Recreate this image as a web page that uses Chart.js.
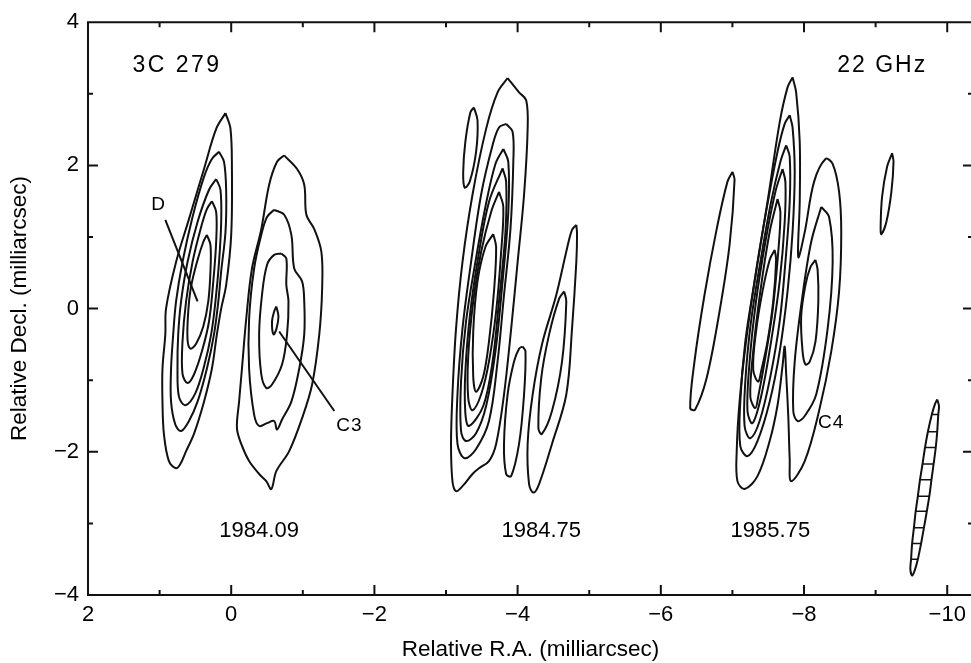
<!DOCTYPE html>
<html>
<head>
<meta charset="utf-8">
<script src="https://cdn.jsdelivr.net/npm/chart.js@4.4.1/dist/chart.umd.min.js"></script>
<style>
  html, body { margin: 0; padding: 0; background: #fff; overflow: hidden; }
  canvas { display: block; }
</style>
</head>
<body>
<canvas id="map" width="980" height="663"></canvas>
<script>
// axis ticks (milliarcsec)
const raTicks = [2, 1, 0, -1, -2, -3, -4, -5, -6, -7, -8, -9, -10];
const declTicks = [-4, -3, -2, -1, 0, 1, 2, 3, 4];

// contours, [RA, Decl] pairs
// epoch 1984.09 - core D
const ctrD1 = [[0.08,2.73],[0.01,2.51],[-0.01,1.95],[0.00,1.03],[0.07,0.33],[0.14,0.00],[0.20,-0.36],[0.27,-0.84],[0.38,-1.30],[0.52,-1.75],[0.63,-1.99],[0.71,-2.17],[0.77,-2.23],[0.87,-2.13],[0.94,-1.75],[0.96,-1.30],[0.96,-0.84],[0.92,-0.36],[0.91,0.00],[0.77,0.65],[0.59,1.25],[0.38,1.95],[0.21,2.51],[0.08,2.73]];
const ctrD2 = [[0.17,2.19],[0.10,2.05],[0.07,1.63],[0.08,1.07],[0.14,0.52],[0.18,0.10],[0.24,-0.36],[0.34,-0.84],[0.47,-1.30],[0.59,-1.57],[0.70,-1.71],[0.78,-1.62],[0.84,-1.30],[0.84,-0.84],[0.81,-0.36],[0.77,0.10],[0.68,0.65],[0.54,1.28],[0.38,1.84],[0.27,2.09],[0.17,2.19]];
const ctrD3 = [[0.21,1.81],[0.15,1.66],[0.14,1.21],[0.17,0.65],[0.22,0.10],[0.28,-0.36],[0.38,-0.81],[0.50,-1.18],[0.64,-1.35],[0.73,-1.23],[0.75,-0.81],[0.74,-0.36],[0.70,0.10],[0.61,0.65],[0.47,1.21],[0.31,1.66],[0.21,1.81]];
const ctrD4 = [[0.27,1.50],[0.21,1.35],[0.21,0.93],[0.25,0.38],[0.31,-0.18],[0.41,-0.60],[0.52,-0.92],[0.61,-1.04],[0.68,-0.91],[0.68,-0.46],[0.63,0.10],[0.54,0.65],[0.42,1.14],[0.34,1.39],[0.27,1.50]];
const ctrD5 = [[0.34,1.03],[0.29,0.89],[0.29,0.52],[0.32,0.10],[0.39,-0.25],[0.49,-0.49],[0.57,-0.56],[0.61,-0.43],[0.60,-0.04],[0.56,0.31],[0.47,0.68],[0.39,0.93],[0.34,1.03]];
// epoch 1984.09 - C3
const ctrC3a = [[-0.74,2.14],[-0.92,1.95],[-1.02,1.73],[-1.05,1.31],[-1.16,1.11],[-1.26,0.79],[-1.27,0.28],[-1.23,-0.36],[-1.13,-1.06],[-0.99,-1.53],[-0.81,-1.99],[-0.63,-2.27],[-0.56,-2.52],[-0.49,-2.41],[-0.39,-2.31],[-0.25,-2.13],[-0.14,-1.89],[-0.08,-1.67],[-0.11,-1.30],[-0.15,-0.84],[-0.21,-0.14],[-0.29,0.56],[-0.42,1.11],[-0.53,1.73],[-0.64,2.05],[-0.74,2.14]];
const ctrC3b = [[-0.60,1.38],[-0.74,1.31],[-0.84,1.03],[-0.88,0.56],[-0.99,0.38],[-1.02,0.10],[-1.02,-0.36],[-0.95,-0.84],[-0.84,-1.30],[-0.71,-1.55],[-0.64,-1.69],[-0.60,-1.57],[-0.50,-1.60],[-0.39,-1.64],[-0.32,-1.48],[-0.25,-0.84],[-0.25,-0.14],[-0.32,0.56],[-0.42,1.03],[-0.50,1.28],[-0.60,1.38]];
const ctrC3c = [[-0.70,0.77],[-0.77,0.70],[-0.77,0.33],[-0.80,0.10],[-0.78,-0.36],[-0.71,-0.78],[-0.57,-1.06],[-0.49,-1.11],[-0.42,-0.92],[-0.39,-0.36],[-0.43,0.19],[-0.50,0.61],[-0.60,0.75],[-0.70,0.77]];
const ctrC3d = [[-0.63,0.03],[-0.66,-0.11],[-0.63,-0.29],[-0.59,-0.36],[-0.57,-0.18],[-0.60,-0.04],[-0.63,0.03]];
// epoch 1984.75
const ctrEb = [[-3.39,2.81],[-3.44,2.63],[-3.42,2.19],[-3.33,1.77],[-3.26,1.69],[-3.24,1.91],[-3.27,2.33],[-3.34,2.74],[-3.39,2.81]];
const ctrE1 = [[-3.86,3.22],[-4.02,3.02],[-4.12,2.91],[-4.14,2.51],[-4.09,1.59],[-4.00,0.65],[-3.91,-0.28],[-3.81,-1.20],[-3.70,-1.89],[-3.60,-2.13],[-3.46,-2.23],[-3.37,-2.31],[-3.23,-2.48],[-3.14,-2.55],[-3.09,-2.41],[-3.07,-1.89],[-3.09,-1.20],[-3.14,-0.28],[-3.23,0.65],[-3.37,1.59],[-3.56,2.51],[-3.72,3.02],[-3.86,3.22]];
const ctrE2 = [[-3.84,2.58],[-3.93,2.47],[-3.94,2.05],[-3.90,1.11],[-3.81,0.19],[-3.72,-0.74],[-3.60,-1.57],[-3.42,-1.96],[-3.26,-2.09],[-3.16,-1.89],[-3.16,-1.20],[-3.23,-0.28],[-3.35,0.65],[-3.49,1.59],[-3.65,2.28],[-3.74,2.53],[-3.84,2.58]];
const ctrE3 = [[-3.80,2.23],[-3.87,2.05],[-3.87,1.35],[-3.79,0.38],[-3.69,-0.60],[-3.56,-1.36],[-3.42,-1.74],[-3.28,-1.85],[-3.21,-1.71],[-3.21,-1.02],[-3.28,-0.18],[-3.41,0.65],[-3.55,1.42],[-3.69,2.02],[-3.80,2.23]];
const ctrE4 = [[-3.79,1.96],[-3.84,1.77],[-3.83,1.07],[-3.74,0.10],[-3.65,-0.74],[-3.52,-1.36],[-3.32,-1.64],[-3.27,-1.46],[-3.27,-0.88],[-3.34,-0.04],[-3.45,0.72],[-3.60,1.49],[-3.79,1.96]];
const ctrE5 = [[-3.74,1.63],[-3.80,1.42],[-3.77,0.79],[-3.70,-0.04],[-3.60,-0.74],[-3.49,-1.20],[-3.37,-1.42],[-3.31,-1.25],[-3.31,-0.67],[-3.38,0.10],[-3.49,0.79],[-3.63,1.35],[-3.74,1.63]];
const ctrE6 = [[-3.66,1.04],[-3.70,0.86],[-3.67,0.24],[-3.60,-0.46],[-3.52,-0.95],[-3.42,-1.16],[-3.38,-0.95],[-3.38,-0.32],[-3.44,0.38],[-3.55,0.86],[-3.66,1.04]];
const ctrF = [[-4.07,-0.53],[-4.11,-0.60],[-4.09,-1.20],[-4.02,-1.89],[-3.91,-2.34],[-3.84,-2.31],[-3.81,-1.89],[-3.86,-1.20],[-3.95,-0.74],[-4.02,-0.56],[-4.07,-0.53]];
const ctrG1 = [[-4.82,1.17],[-4.83,1.04],[-4.82,0.65],[-4.76,-0.28],[-4.68,-1.20],[-4.48,-1.89],[-4.30,-2.45],[-4.22,-2.57],[-4.16,-2.45],[-4.14,-1.89],[-4.21,-1.20],[-4.34,-0.50],[-4.54,0.19],[-4.69,0.84],[-4.76,1.10],[-4.82,1.17]];
const ctrG2 = [[-4.65,0.24],[-4.68,0.10],[-4.62,-0.74],[-4.48,-1.43],[-4.34,-1.75],[-4.29,-1.67],[-4.33,-0.97],[-4.44,-0.36],[-4.58,0.14],[-4.65,0.24]];
// epoch 1985.75
const ctrH = [[-7.00,1.91],[-7.03,1.80],[-6.96,0.89],[-6.82,-0.04],[-6.64,-0.97],[-6.48,-1.41],[-6.41,-1.39],[-6.47,-0.74],[-6.61,0.19],[-6.78,1.11],[-6.93,1.77],[-7.00,1.91]];
const ctrK1 = [[-7.84,3.23],[-7.89,3.02],[-7.94,2.33],[-7.94,1.49],[-7.92,0.72],[-8.01,1.07],[-8.14,1.77],[-8.30,2.09],[-8.40,2.02],[-8.49,1.63],[-8.52,1.07],[-8.49,0.24],[-8.38,-0.60],[-8.21,-1.43],[-8.01,-2.13],[-7.82,-2.41],[-7.80,-2.10],[-7.78,-1.50],[-7.75,-0.90],[-7.73,-0.53],[-7.70,-0.80],[-7.63,-1.35],[-7.52,-1.85],[-7.35,-2.34],[-7.17,-2.52],[-7.07,-2.41],[-7.06,-1.99],[-7.10,-1.30],[-7.19,-0.46],[-7.33,0.52],[-7.49,1.49],[-7.66,2.60],[-7.77,3.09],[-7.84,3.23]];
const ctrK2 = [[-7.80,2.70],[-7.84,2.53],[-7.87,1.91],[-7.84,1.07],[-7.77,0.24],[-7.66,-0.60],[-7.52,-1.30],[-7.35,-1.85],[-7.21,-2.06],[-7.11,-1.92],[-7.11,-1.30],[-7.18,-0.46],[-7.31,0.38],[-7.47,1.35],[-7.63,2.19],[-7.73,2.58],[-7.80,2.70]];
const ctrK3 = [[-7.75,2.28],[-7.80,2.12],[-7.80,1.49],[-7.74,0.65],[-7.66,-0.18],[-7.53,-0.95],[-7.38,-1.57],[-7.25,-1.81],[-7.17,-1.64],[-7.18,-1.02],[-7.26,-0.18],[-7.39,0.65],[-7.54,1.49],[-7.67,2.05],[-7.75,2.28]];
const ctrK4 = [[-7.70,1.95],[-7.74,1.77],[-7.73,1.21],[-7.66,0.38],[-7.54,-0.46],[-7.40,-1.23],[-7.28,-1.60],[-7.21,-1.43],[-7.24,-0.74],[-7.33,0.10],[-7.46,0.93],[-7.60,1.63],[-7.70,1.95]];
const ctrK5 = [[-7.63,1.53],[-7.67,1.35],[-7.64,0.79],[-7.56,-0.04],[-7.45,-0.74],[-7.36,-1.23],[-7.32,-1.39],[-7.25,-1.23],[-7.29,-0.60],[-7.39,0.24],[-7.52,1.07],[-7.63,1.53]];
const ctrK6 = [[-7.59,0.82],[-7.61,0.68],[-7.57,0.10],[-7.49,-0.46],[-7.40,-0.88],[-7.36,-1.02],[-7.29,-0.85],[-7.33,-0.32],[-7.42,0.24],[-7.52,0.68],[-7.59,0.82]];
const ctrL2 = [[-8.24,1.42],[-8.35,1.28],[-8.40,0.65],[-8.33,-0.28],[-8.17,-1.20],[-8.01,-1.50],[-7.91,-1.57],[-7.85,-1.43],[-7.87,-0.74],[-7.98,0.19],[-8.10,0.93],[-8.24,1.42]];
const ctrL3 = [[-8.16,0.68],[-8.19,0.54],[-8.20,0.10],[-8.16,-0.46],[-8.08,-0.74],[-8.02,-0.78],[-7.98,-0.60],[-7.96,-0.11],[-8.02,0.33],[-8.09,0.58],[-8.16,0.68]];
const ctrM = [[-9.23,2.17],[-9.25,2.05],[-9.22,1.63],[-9.15,1.21],[-9.08,1.04],[-9.07,1.14],[-9.09,1.56],[-9.16,1.98],[-9.23,2.17]];

// restoring beam
const beamOutline = [[-9.86,-1.27],[-9.885,-1.36],[-9.875,-1.48],[-9.86,-1.72],[-9.84,-1.94],[-9.81,-2.17],[-9.78,-2.39],[-9.75,-2.62],[-9.715,-2.83],[-9.675,-3.06],[-9.635,-3.28],[-9.59,-3.50],[-9.545,-3.66],[-9.51,-3.73],[-9.485,-3.64],[-9.495,-3.50],[-9.51,-3.28],[-9.535,-3.06],[-9.56,-2.83],[-9.59,-2.62],[-9.62,-2.39],[-9.655,-2.17],[-9.69,-1.94],[-9.73,-1.72],[-9.785,-1.48],[-9.83,-1.33],[-9.86,-1.27]];
const hatchDecl = [-1.48, -1.72, -1.94, -2.17, -2.39, -2.62, -2.83, -3.06, -3.28, -3.50];
const hatchEast = [-9.785, -9.73, -9.69, -9.655, -9.62, -9.59, -9.56, -9.535, -9.51, -9.495];
const hatchWest = [-9.875, -9.86, -9.84, -9.81, -9.78, -9.75, -9.715, -9.675, -9.635, -9.59];

// pointer lines for D and C3
const leaderD = [[0.92, 1.24], [0.47, 0.10]];
const leaderC3 = [[-0.67, -0.32], [-1.44, -1.43]];

const fontFamily = "'Liberation Sans', Arial, Helvetica, sans-serif";

// text on the map, at RA/Decl positions
const mapTexts = [
    { text: '3C 279', x: 1.38, y: 3.40, size: 23, align: 'left', spacing: 2.5 },
    { text: '22 GHz', x: -9.72, y: 3.40, size: 23, align: 'right', spacing: 2 },
    { text: '1984.09', x: -0.39, y: -3.11, size: 22, align: 'center', spacing: 0 },
    { text: '1984.75', x: -4.33, y: -3.11, size: 22, align: 'center', spacing: 0 },
    { text: '1985.75', x: -7.53, y: -3.11, size: 22, align: 'center', spacing: 0 },
    { text: 'D', x: 1.02, y: 1.45, size: 19, align: 'center', spacing: 0 },
    { text: 'C3', x: -1.65, y: -1.63, size: 19, align: 'center', spacing: 1 },
    { text: 'C4', x: -8.38, y: -1.60, size: 19, align: 'center', spacing: 1 }
];

const contours = [ctrD1, ctrD2, ctrD3, ctrD4, ctrD5, ctrC3a, ctrC3b, ctrC3c, ctrC3d,
    ctrEb, ctrE1, ctrE2, ctrE3, ctrE4, ctrE5, ctrE6, ctrF, ctrG1, ctrG2,
    ctrH, ctrK1, ctrK2, ctrK3, ctrK4, ctrK5, ctrK6, ctrL2, ctrL3, ctrM];

const toPts = arr => arr.map(([x, y]) => ({ x, y }));
const ink = '#111';

const datasets = contours.map(c => ({
    data: toPts(c), showLine: true, pointRadius: 0, borderColor: ink,
    borderWidth: 2, tension: 0.35, fill: false
}));
[leaderD, leaderC3].forEach(l => datasets.push({
    data: toPts(l), showLine: true, pointRadius: 0, borderColor: ink, borderWidth: 2, tension: 0
}));
datasets.push({
    data: toPts(beamOutline), showLine: true, pointRadius: 0, borderColor: ink, borderWidth: 2, tension: 0.3
});
hatchDecl.forEach((d, i) => datasets.push({
    data: [{ x: hatchEast[i], y: d }, { x: hatchWest[i], y: d }],
    showLine: true, pointRadius: 0, borderColor: ink, borderWidth: 1.5, tension: 0
}));

const tickLabel = v => (v % 2 === 0 ? String(v).replace('-', '\u2212') : '');

// frame (right edge falls outside the window) with inward ticks, plus the map labels
const framePlugin = {
    id: 'frame',
    afterDraw(chart) {
        const { ctx, chartArea: a, scales: { x, y } } = chart;
        ctx.save();
        ctx.strokeStyle = ink;
        ctx.lineWidth = 2;
        ctx.beginPath();
        ctx.moveTo(a.right + 4, a.top); ctx.lineTo(a.left, a.top);
        ctx.lineTo(a.left, a.bottom); ctx.lineTo(a.right + 4, a.bottom);
        x.ticks.forEach(t => {
            const px = x.getPixelForValue(t.value);
            const len = t.value % 2 === 0 ? 10 : 5;
            ctx.moveTo(px, a.bottom); ctx.lineTo(px, a.bottom - len);
            ctx.moveTo(px, a.top); ctx.lineTo(px, a.top + len);
        });
        y.ticks.forEach(t => {
            const py = y.getPixelForValue(t.value);
            const len = t.value % 2 === 0 ? 10 : 5;
            ctx.moveTo(a.left, py); ctx.lineTo(a.left + len, py);
            ctx.moveTo(a.right, py); ctx.lineTo(a.right - len, py);
        });
        ctx.stroke();

        ctx.fillStyle = '#000';
        ctx.textBaseline = 'middle';
        mapTexts.forEach(m => {
            ctx.font = `${m.size}px ${fontFamily}`;
            ctx.letterSpacing = `${m.spacing}px`;
            ctx.textAlign = m.align;
            ctx.fillText(m.text, x.getPixelForValue(m.x), y.getPixelForValue(m.y));
        });
        ctx.restore();
    }
};

new Chart(document.getElementById('map'), {
    type: 'scatter',
    data: { datasets },
    plugins: [framePlugin],
    options: {
        responsive: false,
        animation: false,
        layout: { padding: { top: 20, right: 7, left: 0, bottom: 0 } },
        plugins: { legend: { display: false }, tooltip: { enabled: false } },
        scales: {
            x: {
                type: 'linear', position: 'bottom', reverse: true,
                min: -10.36, max: 2,
                afterBuildTicks: s => { s.ticks = raTicks.map(v => ({ value: v })); },
                afterFit: s => { s.height = 68; },
                grid: { display: false, drawTicks: false },
                border: { display: false },
                ticks: {
                    autoSkip: false, maxRotation: 0, padding: 7, color: '#000',
                    font: { family: fontFamily, size: 22 }, callback: tickLabel
                },
                title: {
                    display: true, text: 'Relative R.A. (milliarcsec)', color: '#000',
                    font: { family: fontFamily, size: 22.5 }, padding: { top: 0, bottom: 0 }
                }
            },
            y: {
                type: 'linear', position: 'left',
                min: -4, max: 4,
                afterBuildTicks: s => { s.ticks = declTicks.map(v => ({ value: v })); },
                afterFit: s => { s.width = 88; },
                grid: { display: false, drawTicks: false },
                border: { display: false },
                ticks: {
                    autoSkip: false, padding: 9, color: '#000',
                    font: { family: fontFamily, size: 22 }, callback: tickLabel
                },
                title: {
                    display: true, text: 'Relative Decl. (milliarcsec)', color: '#000',
                    font: { family: fontFamily, size: 22.5 }, padding: { top: 6, bottom: 0 }
                }
            }
        }
    }
});
</script>
</body>
</html>
